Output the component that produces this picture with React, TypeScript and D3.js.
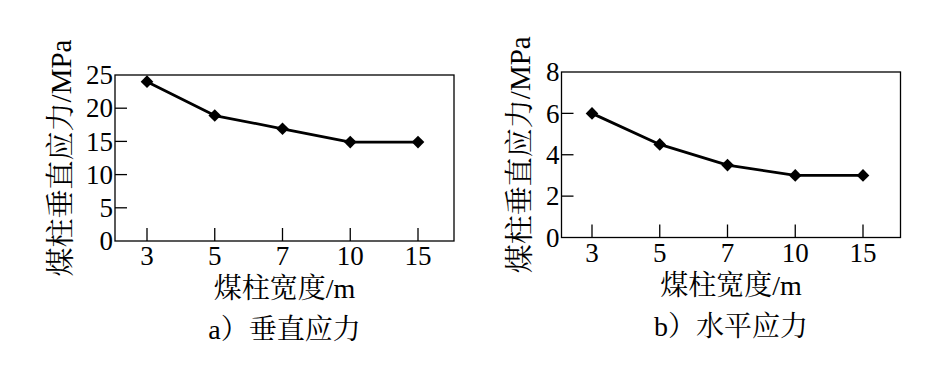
import React from "react";
import * as d3 from "d3";

const categories = ["3", "5", "7", "10", "15"];
const verticalStress = [24, 18.9, 16.9, 14.9, 14.9];
const horizontalStress = [6.0, 4.5, 3.5, 3.0, 3.0];
const leftTicks = [0, 5, 10, 15, 20, 25];
const rightTicks = [0, 2, 4, 6, 8];
const yTitle = "煤柱垂直应力/MPa";
const xTitle = "煤柱宽度/m";
const captionA = "a）垂直应力";
const captionB = "b）水平应力";

const FONT = "'Liberation Serif', 'Noto Serif CJK SC', 'Noto Sans CJK SC', serif";

type PanelProps = {
  x0: number; x1: number; y0: number; y1: number;
  values: number[]; ticks: number[]; yMax: number;
  xPositions: [number, number];
  yLabelX: number; caption: string;
};

function Panel({ x0, x1, y0, y1, values, ticks, yMax, xPositions, yLabelX, caption }: PanelProps) {
  const x = d3.scalePoint<string>().domain(categories).range(xPositions);
  const y = d3.scaleLinear().domain([0, yMax]).range([y1, y0]);
  const line = d3.line<number>()
    .x((_, i) => x(categories[i]) as number)
    .y((d) => y(d))
    .curve(d3.curveLinear);
  const marker = d3.symbol().type(d3.symbolSquare).size(80)() as string;
  const cx = (x0 + x1) / 2;
  const cy = (y0 + y1) / 2;
  return (
    <g>
      <rect x={x0} y={y0} width={x1 - x0} height={y1 - y0} fill="none" stroke="#000" strokeWidth={1.3} />
      {ticks.map((t) => (
        <g key={t}>
          {t !== 0 && t !== yMax && (
            <line x1={x0} x2={x0 + 12} y1={y(t)} y2={y(t)} stroke="#000" strokeWidth={1.3} />
          )}
          <text x={x0 - 2} y={y(t)} dy="0.34em" textAnchor="end" fontSize={27} fontFamily={FONT}>{t}</text>
        </g>
      ))}
      {categories.map((c) => (
        <g key={c}>
          <line x1={x(c)} x2={x(c)} y1={y1} y2={y1 - 13} stroke="#000" strokeWidth={1.3} />
          <text x={x(c)} y={y1 + 24} textAnchor="middle" fontSize={27} fontFamily={FONT}>{c}</text>
        </g>
      ))}
      <path d={line(values) as string} fill="none" stroke="#000" strokeWidth={2.8} strokeLinejoin="round" />
      {values.map((v, i) => (
        <path key={i} d={marker} transform={`translate(${x(categories[i])},${y(v)}) rotate(45)`} fill="#000" />
      ))}
      <text x={cx} y={y1 + 57} textAnchor="middle" fontSize={28} fontFamily={FONT}>{xTitle}</text>
      <text x={cx} y={y1 + 98} textAnchor="middle" fontSize={28} fontFamily={FONT}>{caption}</text>
      <text transform={`translate(${yLabelX},${cy}) rotate(-90)`} textAnchor="middle" fontSize={29} fontFamily={FONT}>{yTitle}</text>
    </g>
  );
}

export default function App() {
  return (
    <svg width={945} height={378} style={{ position: "absolute", left: 0, top: 0, background: "#fff" }}>
      <rect width={945} height={378} fill="#fff" />
      <Panel x0={115} x1={454} y0={75} y1={241} values={verticalStress} ticks={leftTicks} yMax={25}
        xPositions={[147, 418]} yLabelX={71} caption={captionA} />
      <Panel x0={561.5} x1={900.5} y0={72} y1={237.5} values={horizontalStress} ticks={rightTicks} yMax={8}
        xPositions={[592, 863]} yLabelX={530} caption={captionB} />
    </svg>
  );
}
